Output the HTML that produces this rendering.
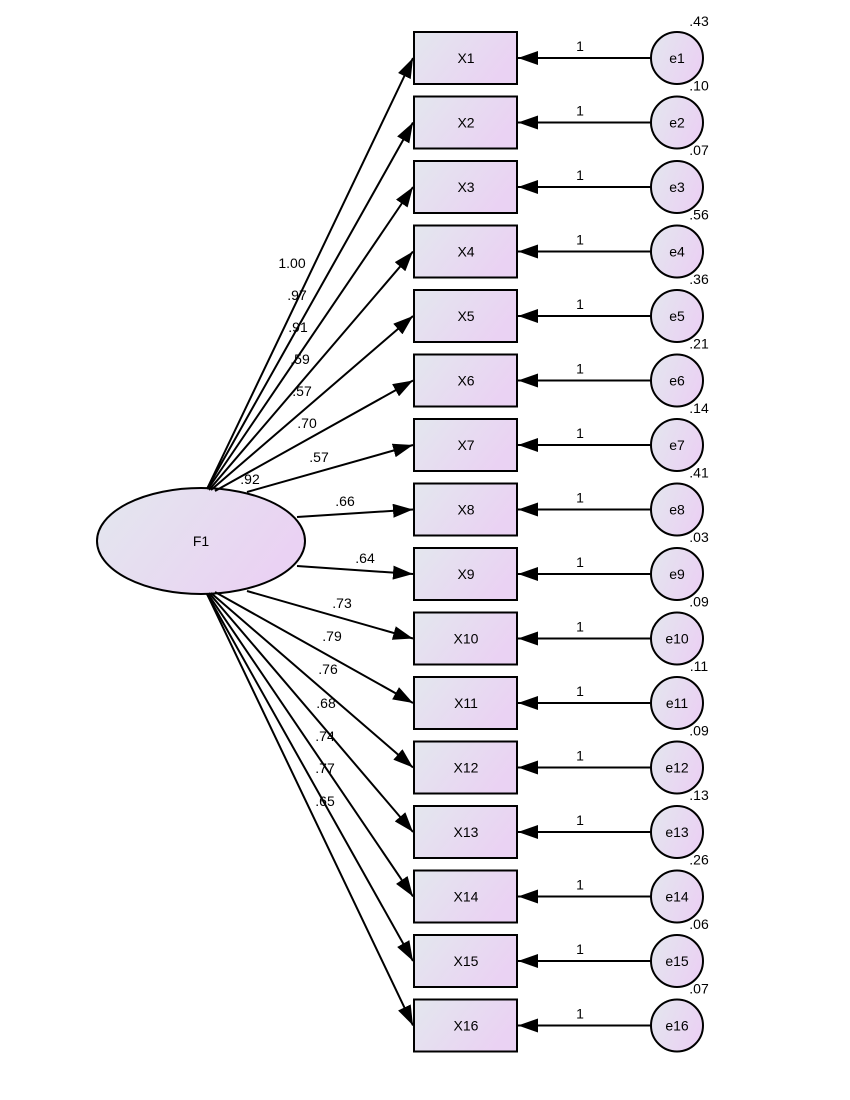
<!DOCTYPE html>
<html><head><meta charset="utf-8"><style>body{margin:0;background:#fff}svg{display:block}text{font-family:"Liberation Sans",Arial,sans-serif;font-size:14px;fill:#000}</style></head><body>
<svg width="850" height="1100" viewBox="0 0 850 1100">
<defs>
<linearGradient id="g" x1="0" y1="0" x2="1" y2="0.4"><stop offset="0" stop-color="#e3e7ee"/><stop offset="1" stop-color="#ead2f3"/></linearGradient>
<marker id="a" markerWidth="20" markerHeight="14" refX="20" refY="7" orient="auto" markerUnits="userSpaceOnUse" viewBox="0 0 20 14"><path d="M0,0 L20,7 L0,14 Z" fill="#000"/></marker>
</defs>
<g stroke="#000" stroke-width="2" fill="url(#g)">
<rect x="414" y="32" width="103" height="52"/><rect x="414" y="96.5" width="103" height="52"/><rect x="414" y="161" width="103" height="52"/><rect x="414" y="225.5" width="103" height="52"/><rect x="414" y="290" width="103" height="52"/><rect x="414" y="354.5" width="103" height="52"/><rect x="414" y="419" width="103" height="52"/><rect x="414" y="483.5" width="103" height="52"/><rect x="414" y="548" width="103" height="52"/><rect x="414" y="612.5" width="103" height="52"/><rect x="414" y="677" width="103" height="52"/><rect x="414" y="741.5" width="103" height="52"/><rect x="414" y="806" width="103" height="52"/><rect x="414" y="870.5" width="103" height="52"/><rect x="414" y="935" width="103" height="52"/><rect x="414" y="999.5" width="103" height="52"/>
<circle cx="677" cy="58" r="26"/><circle cx="677" cy="122.5" r="26"/><circle cx="677" cy="187" r="26"/><circle cx="677" cy="251.5" r="26"/><circle cx="677" cy="316" r="26"/><circle cx="677" cy="380.5" r="26"/><circle cx="677" cy="445" r="26"/><circle cx="677" cy="509.5" r="26"/><circle cx="677" cy="574" r="26"/><circle cx="677" cy="638.5" r="26"/><circle cx="677" cy="703" r="26"/><circle cx="677" cy="767.5" r="26"/><circle cx="677" cy="832" r="26"/><circle cx="677" cy="896.5" r="26"/><circle cx="677" cy="961" r="26"/><circle cx="677" cy="1025.5" r="26"/>
<ellipse cx="201" cy="541" rx="104" ry="53"/>
</g>
<g stroke="#000" stroke-width="2" marker-end="url(#a)">
<line x1="207" y1="489" x2="413" y2="58"/><line x1="207" y1="489" x2="413" y2="122.5"/><line x1="208" y1="489" x2="413" y2="187"/><line x1="209" y1="490" x2="413" y2="251.5"/><line x1="211" y1="490" x2="413" y2="316"/><line x1="215" y1="491" x2="413" y2="380.5"/><line x1="247" y1="492" x2="413" y2="445"/><line x1="297" y1="517" x2="413" y2="509.5"/><line x1="297" y1="566" x2="413" y2="574"/><line x1="247" y1="591" x2="413" y2="638.5"/><line x1="215" y1="592" x2="413" y2="703"/><line x1="211" y1="593" x2="413" y2="767.5"/><line x1="209" y1="593" x2="413" y2="832"/><line x1="208" y1="594" x2="413" y2="896.5"/><line x1="207" y1="594" x2="413" y2="961"/><line x1="207" y1="594" x2="413" y2="1025.5"/>
<line x1="651" y1="58" x2="518" y2="58"/><line x1="651" y1="122.5" x2="518" y2="122.5"/><line x1="651" y1="187" x2="518" y2="187"/><line x1="651" y1="251.5" x2="518" y2="251.5"/><line x1="651" y1="316" x2="518" y2="316"/><line x1="651" y1="380.5" x2="518" y2="380.5"/><line x1="651" y1="445" x2="518" y2="445"/><line x1="651" y1="509.5" x2="518" y2="509.5"/><line x1="651" y1="574" x2="518" y2="574"/><line x1="651" y1="638.5" x2="518" y2="638.5"/><line x1="651" y1="703" x2="518" y2="703"/><line x1="651" y1="767.5" x2="518" y2="767.5"/><line x1="651" y1="832" x2="518" y2="832"/><line x1="651" y1="896.5" x2="518" y2="896.5"/><line x1="651" y1="961" x2="518" y2="961"/><line x1="651" y1="1025.5" x2="518" y2="1025.5"/>
</g>
<g text-anchor="middle" style="font-size:13px">
<text x="201" y="546">F1</text>
<text x="466" y="63">X1</text><text x="466" y="127.5">X2</text><text x="466" y="192">X3</text><text x="466" y="256.5">X4</text><text x="466" y="321">X5</text><text x="466" y="385.5">X6</text><text x="466" y="450">X7</text><text x="466" y="514.5">X8</text><text x="466" y="579">X9</text><text x="466" y="643.5">X10</text><text x="466" y="708">X11</text><text x="466" y="772.5">X12</text><text x="466" y="837">X13</text><text x="466" y="901.5">X14</text><text x="466" y="966">X15</text><text x="466" y="1030.5">X16</text>
<text x="677" y="63">e1</text><text x="677" y="127.5">e2</text><text x="677" y="192">e3</text><text x="677" y="256.5">e4</text><text x="677" y="321">e5</text><text x="677" y="385.5">e6</text><text x="677" y="450">e7</text><text x="677" y="514.5">e8</text><text x="677" y="579">e9</text><text x="677" y="643.5">e10</text><text x="677" y="708">e11</text><text x="677" y="772.5">e12</text><text x="677" y="837">e13</text><text x="677" y="901.5">e14</text><text x="677" y="966">e15</text><text x="677" y="1030.5">e16</text>
</g>
<g text-anchor="middle">
<text x="580" y="51">1</text><text x="580" y="115.5">1</text><text x="580" y="180">1</text><text x="580" y="244.5">1</text><text x="580" y="309">1</text><text x="580" y="373.5">1</text><text x="580" y="438">1</text><text x="580" y="502.5">1</text><text x="580" y="567">1</text><text x="580" y="631.5">1</text><text x="580" y="696">1</text><text x="580" y="760.5">1</text><text x="580" y="825">1</text><text x="580" y="889.5">1</text><text x="580" y="954">1</text><text x="580" y="1018.5">1</text>
<text x="699" y="26">.43</text><text x="699" y="90.5">.10</text><text x="699" y="155">.07</text><text x="699" y="219.5">.56</text><text x="699" y="284">.36</text><text x="699" y="348.5">.21</text><text x="699" y="413">.14</text><text x="699" y="477.5">.41</text><text x="699" y="542">.03</text><text x="699" y="606.5">.09</text><text x="699" y="671">.11</text><text x="699" y="735.5">.09</text><text x="699" y="800">.13</text><text x="699" y="864.5">.26</text><text x="699" y="929">.06</text><text x="699" y="993.5">.07</text>
<text x="292" y="268">1.00</text><text x="297" y="300">.97</text><text x="298" y="332">.91</text><text x="300" y="364">.59</text><text x="302" y="396">.57</text><text x="307" y="428">.70</text><text x="319" y="462">.57</text><text x="250" y="484">.92</text><text x="345" y="506">.66</text><text x="365" y="563">.64</text><text x="342" y="608">.73</text><text x="332" y="641">.79</text><text x="328" y="674">.76</text><text x="326" y="708">.68</text><text x="325" y="741">.74</text><text x="325" y="773">.77</text><text x="325" y="806">.65</text>
</g>
</svg>
</body></html>
